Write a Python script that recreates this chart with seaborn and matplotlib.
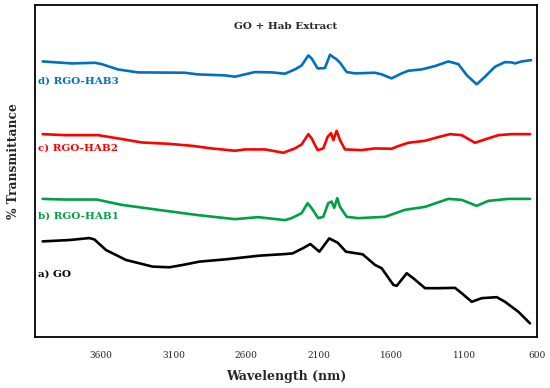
import numpy as np
import pandas as pd
import matplotlib
matplotlib.use("Agg")
import matplotlib.pyplot as plt
import seaborn as sns

# values (x = wavelength axis, y = %T on an arbitrary 0-100 scale)
go_x = [4000, 3817, 3680, 3645, 3565, 3427, 3244, 3129, 3037, 2923, 2739, 2510, 2327, 2280,
        2212, 2159, 2097, 2029, 1971, 1914, 1799, 1714, 1668, 1588, 1565, 1496, 1451, 1370,
        1279, 1164, 1118, 1049, 980, 877, 820, 728, 648]
go_y = [28.8, 29.2, 29.8, 29.4, 26.2, 23.2, 21.2, 21.0, 21.7, 22.7, 23.4, 24.5, 25.0, 25.2,
        26.7, 28.0, 25.7, 29.7, 28.4, 25.7, 24.9, 21.7, 20.7, 15.7, 15.4, 19.2, 17.7, 14.7,
        14.7, 14.8, 13.2, 10.6, 11.7, 12.0, 10.6, 7.6, 4.1]

hab1_x = [4000, 3847, 3629, 3457, 3205, 2930, 2678, 2517, 2334, 2288, 2219, 2178, 2150, 2105,
          2070, 2036, 2013, 1995, 1974, 1955, 1909, 1829, 1645, 1508, 1370, 1210, 1118, 1015,
          935, 797, 648]
hab1_y = [41.6, 41.4, 41.4, 39.8, 38.3, 36.7, 35.5, 36.1, 35.2, 35.8, 37.3, 40.3, 38.8, 35.8,
          36.2, 40.3, 40.8, 38.9, 41.8, 39.2, 36.2, 35.8, 36.2, 38.3, 39.2, 41.6, 41.3, 39.5,
          41.0, 41.6, 41.6]

hab2_x = [4000, 3847, 3618, 3481, 3320, 3137, 2976, 2838, 2678, 2609, 2471, 2345, 2265, 2219,
          2173, 2150, 2109, 2070, 2040, 2017, 2001, 1978, 1955, 1921, 1806, 1715, 1600, 1554,
          1485, 1371, 1279, 1199, 1118, 1027, 958, 866, 774, 648]
hab2_y = [61.1, 60.8, 60.8, 59.8, 58.6, 58.2, 57.6, 56.8, 56.1, 56.5, 56.5, 55.5, 56.8, 58.0,
          61.1, 59.8, 56.3, 56.8, 60.3, 61.4, 59.3, 62.1, 59.3, 56.5, 56.3, 56.8, 56.7, 57.5,
          58.5, 59.1, 60.2, 61.1, 60.8, 58.5, 59.5, 60.8, 61.1, 61.1]

hab3_x = [4000, 3801, 3641, 3595, 3483, 3345, 3023, 2932, 2747, 2678, 2540, 2423, 2334, 2265,
          2219, 2173, 2150, 2109, 2059, 2024, 1978, 1955, 1909, 1852, 1715, 1668, 1600, 1531,
          1485, 1393, 1302, 1210, 1141, 1084, 1015, 958, 889, 820, 774, 751, 705, 641]
hab3_y = [83.0, 82.4, 82.6, 82.2, 80.6, 79.7, 79.6, 79.1, 78.8, 78.4, 79.8, 79.7, 79.3, 80.6,
          81.8, 84.8, 83.9, 80.9, 81.0, 85.0, 83.6, 82.6, 79.8, 79.4, 79.6, 79.1, 77.9, 79.4,
          80.2, 80.6, 81.6, 83.0, 82.2, 78.9, 76.1, 78.4, 81.4, 82.8, 82.7, 82.4, 83.0, 83.4]

labels = ["a) GO", "b) RGO-HAB1", "c) RGO-HAB2", "d) RGO-HAB3"]
colors = ["#000000", "#00A045", "#FF0000", "#0070C0"]
label_y = [19.0, 36.4, 56.8, 77.1]
xticks = [3600, 3100, 2600, 2100, 1600, 1100, 600]

sns.set_style("white")
plt.rcParams['font.family'] = ['DejaVu Serif']

fig = plt.figure(figsize=(5.5, 3.88), dpi=100)
ax = fig.add_axes([35 / 550, 51 / 388, 502 / 550, 332 / 388])

series = [(go_x, go_y), (hab1_x, hab1_y), (hab2_x, hab2_y), (hab3_x, hab3_y)]
for (xs, ys), c in zip(series, colors):
    sns.lineplot(x=xs, y=ys, color=c, linewidth=1.9, estimator=None, sort=False, ax=ax)
for ln in ax.lines:
    ln.set_solid_joinstyle("round")
    ln.set_solid_capstyle("round")

for lab, c, ly in zip(labels, colors, label_y):
    ax.text(4032, ly, lab, color=c, fontsize=7.5, fontweight="bold", va="center", ha="left")

ax.text(0.5, 0.934, "GO + Hab Extract", transform=ax.transAxes, ha="center", va="center",
        fontsize=7.5, fontweight="bold")

ax.set_xlim(4053, 600)
ax.set_ylim(0, 100)
ax.set_xticks(xticks)
ax.set_xticklabels([str(t) for t in xticks], fontsize=6.5)
ax.set_yticks([])
ax.tick_params(axis="x", length=0, pad=10)
for sp in ax.spines.values():
    sp.set_color("black")
    sp.set_linewidth(1.3)

ax.set_xlabel("Wavelength (nm)", fontsize=9, fontweight="bold", labelpad=7)
fig.text(14 / 550, 1 - 161 / 388, "% Transmittance", rotation=90, ha="center", va="center",
         fontsize=8.8, fontweight="bold")

fig.savefig("out.png", dpi=100)
